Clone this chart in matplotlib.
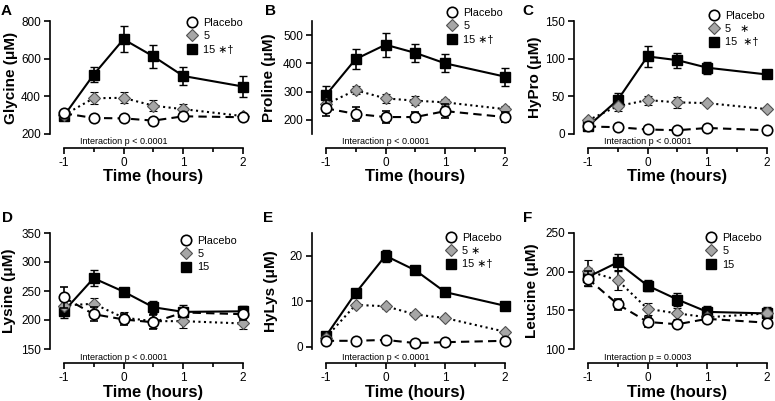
import matplotlib
matplotlib.use("Agg")
import matplotlib.pyplot as plt
from matplotlib.lines import Line2D
from matplotlib.ticker import MultipleLocator

plt.rcParams['font.family'] = ['Liberation Sans', 'DejaVu Sans']

times = [-1, -0.5, 0, 0.5, 1, 2]

glycine_placebo = [310, 285, 283, 271, 294, 289]
glycine_placebo_err = [10, 10, 10, 10, 10, 8]
glycine_5 = [300, 390, 392, 350, 332, 295]
glycine_5_err = [15, 32, 30, 30, 25, 8]
glycine_15 = [295, 515, 703, 612, 508, 452]
glycine_15_err = [18, 40, 70, 62, 48, 57]

proline_placebo = [241, 221, 210, 210, 231, 210]
proline_placebo_err = [28, 25, 20, 18, 25, 18]
proline_5 = [255, 305, 276, 268, 262, 238]
proline_5_err = [20, 15, 15, 15, 12, 10]
proline_15 = [287, 415, 466, 437, 400, 353]
proline_15_err = [32, 35, 42, 33, 32, 32]

hypro_placebo = [10, 9, 6, 5, 8, 5]
hypro_placebo_err = [3, 2, 2, 2, 2, 2]
hypro_5 = [18, 37, 45, 42, 41, 33]
hypro_5_err = [3, 6, 6, 7, 3, 3]
hypro_15 = [10, 45, 103, 98, 88, 79]
hypro_15_err = [3, 10, 14, 10, 8, 5]

lysine_placebo = [239, 210, 201, 196, 213, 210]
lysine_placebo_err = [18, 12, 10, 12, 8, 10]
lysine_5 = [225, 228, 204, 198, 198, 194]
lysine_5_err = [10, 10, 10, 12, 12, 10]
lysine_15 = [215, 272, 249, 222, 214, 215]
lysine_15_err = [12, 14, 5, 10, 12, 10]

hylys_placebo = [1.3, 1.3, 1.5, 0.8, 1.0, 1.3]
hylys_placebo_err = [0.3, 0.3, 0.3, 0.3, 0.3, 0.3]
hylys_5 = [2.0, 9.2, 8.9, 7.1, 6.3, 3.3]
hylys_5_err = [0.3, 0.5, 0.5, 0.4, 0.4, 0.3]
hylys_15 = [2.3, 11.8, 20.0, 16.8, 12.0, 9.0]
hylys_15_err = [0.4, 0.6, 1.3, 0.6, 0.6, 0.5]

leucine_placebo = [191, 158, 135, 132, 139, 134]
leucine_placebo_err = [10, 7, 6, 4, 3, 3]
leucine_5 = [201, 189, 152, 146, 141, 146]
leucine_5_err = [14, 13, 8, 7, 4, 5]
leucine_15 = [193, 212, 182, 164, 148, 146]
leucine_15_err = [12, 11, 7, 8, 8, 8]

panel_letters = ["A", "B", "C", "D", "E", "F"]
ylabels = ["Glycine (μM)", "Proline (μM)", "HyPro (μM)",
           "Lysine (μM)", "HyLys (μM)", "Leucine (μM)"]
legend_labels = [
    ["Placebo", "5", "15 ∗†"],
    ["Placebo", "5", "15 ∗†"],
    ["Placebo", "5   ∗", "15  ∗†"],
    ["Placebo", "5", "15"],
    ["Placebo", "5 ∗", "15 ∗†"],
    ["Placebo", "5", "15"],
]
interaction_texts = ["Interaction p < 0.0001"] * 5 + ["Interaction p = 0.0003"]
ylims = [(200, 800), (150, 550), (0, 150), (150, 350), (-0.5, 25), (100, 250)]
yticks = [[200, 400, 600, 800], [200, 300, 400, 500], [0, 50, 100, 150],
          [150, 200, 250, 300, 350], [0, 10, 20], [100, 150, 200, 250]]

data = [
    (glycine_placebo, glycine_placebo_err, glycine_5, glycine_5_err, glycine_15, glycine_15_err),
    (proline_placebo, proline_placebo_err, proline_5, proline_5_err, proline_15, proline_15_err),
    (hypro_placebo, hypro_placebo_err, hypro_5, hypro_5_err, hypro_15, hypro_15_err),
    (lysine_placebo, lysine_placebo_err, lysine_5, lysine_5_err, lysine_15, lysine_15_err),
    (hylys_placebo, hylys_placebo_err, hylys_5, hylys_5_err, hylys_15, hylys_15_err),
    (leucine_placebo, leucine_placebo_err, leucine_5, leucine_5_err, leucine_15, leucine_15_err),
]

W, H = 775, 401
fig = plt.figure(figsize=(W / 100, H / 100), dpi=100)

# layout in pixels
col_left = [50, 312, 574]
ax_w = 199
row_top = [21, 233]
row_bot = [134, 349]
ylabel_cx = [11, 269, 535, 9, 271, 532]
letter_pos = [(6, 11), (270, 11), (528, 11), (7, 218), (268, 218), (528, 218)]
legend_pos = [(193, 25), (453, 15), (715, 18), (187, 243), (452, 240), (712, 240)]

sq_style = dict(marker='s', color='black', mfc='black', mec='black', ms=7.5, ls='-')
dm_style = dict(marker='D', color='black', mfc='#a6a6a6', mec='#505050', ms=6, ls=':')
ci_style = dict(marker='o', color='black', mfc='white', mec='black', ms=7.5, ls=(0, (4, 2.5)))

for i in range(6):
    r, c = divmod(i, 3)
    left = col_left[c]
    top = row_top[r]
    bot = row_bot[r]
    ax = fig.add_axes([left / W, (H - bot) / H, ax_w / W, (bot - top) / H])
    pl, ple, f5, f5e, f15, f15e = data[i]

    for y, e, st, mew, z in [(f15, f15e, sq_style, 1.0, 3), (f5, f5e, dm_style, 0.8, 4), (pl, ple, ci_style, 1.2, 5)]:
        eb = ax.errorbar(times, y, yerr=e, ecolor='black', elinewidth=1.2, capsize=3.2,
                         capthick=1.2, lw=1.5, mew=mew, zorder=z, clip_on=False, **st)
        for art in list(eb.lines[1]) + list(eb.lines[2]):
            art.set_clip_on(False)

    ax.set_xlim(-1.23, 2.1)
    ax.set_ylim(*ylims[i])
    ax.set_yticks(yticks[i])
    ax.set_xticks([-1, 0, 1, 2])
    ax.set_xticklabels(["-1", "0", "1", "2"])
    ax.xaxis.set_minor_locator(MultipleLocator(0.5))
    for s in ['top', 'right']:
        ax.spines[s].set_visible(False)
    ax.spines['bottom'].set_position(('outward', 10))
    ax.spines['bottom'].set_bounds(-1, 2)
    for s in ['left', 'bottom']:
        ax.spines[s].set_linewidth(1.2)
    ax.tick_params(axis='both', which='major', labelsize=8.5, width=1.2, length=4, pad=2.5)
    ax.tick_params(axis='x', which='minor', width=1.2, length=3)

    ax.set_ylabel(ylabels[i], fontsize=11, fontweight='bold')
    ax.yaxis.set_label_coords((ylabel_cx[i] + 7 - left) / ax_w, 0.5)
    ax.set_xlabel("Time (hours)", fontsize=12, fontweight='bold')
    ax.xaxis.set_label_coords(0.52, -0.31)

    ax.annotate(interaction_texts[i], xy=(0.0, 0), xycoords=('data', 'axes fraction'),
                xytext=(0, -8), textcoords='offset pixels', ha='center', va='center',
                fontsize=6.5)

    handles = [Line2D([], [], **{**ci_style, 'ls': 'none', 'mew': 1.2}),
               Line2D([], [], **{**dm_style, 'ls': 'none', 'mew': 0.8}),
               Line2D([], [], **{**sq_style, 'ls': 'none'})]
    mx, my = legend_pos[i]
    ax.legend(handles, legend_labels[i], loc='upper left',
              bbox_to_anchor=((mx - 6) / W, (H - my + 7) / H),
              bbox_transform=fig.transFigure, frameon=False, fontsize=7.8,
              handlelength=1.0, handletextpad=0.5, labelspacing=0.3,
              borderpad=0, borderaxespad=0)

    lx, ly = letter_pos[i]
    fig.text(lx / W, (H - ly) / H, panel_letters[i], fontsize=11, fontweight='bold',
             ha='center', va='center')

fig.savefig("out.png", dpi=100)
